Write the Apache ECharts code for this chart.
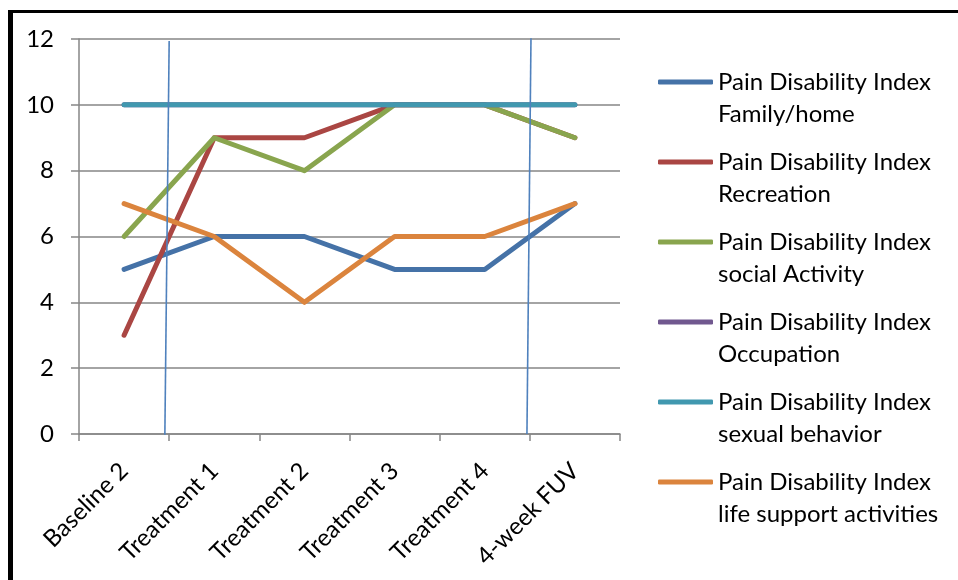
<!DOCTYPE html>
<html>
<head>
<meta charset="utf-8">
<script src="https://cdn.jsdelivr.net/npm/echarts@6/dist/echarts.min.js"></script>
<style>
  html, body { margin: 0; padding: 0; background: #fff; }
  #frame { position: absolute; left: 8px; top: 10px; width: 960px; height: 580px;
           border-left: 5px solid #000; border-top: 3px solid #000; box-sizing: border-box; }
  #chart { position: absolute; left: 0; top: 0; width: 958px; height: 580px; }
</style>
</head>
<body>
<div id="chart"></div>
<div id="frame"></div>
<script>
// Session labels along the x axis
const categories = ['Baseline 2', 'Treatment 1', 'Treatment 2', 'Treatment 3', 'Treatment 4', '4-week FUV'];

// Pain Disability Index sub-scores per session
const familyHome      = [5, 6, 6, 5, 5, 7];
const recreation      = [3, 9, 9, 10, 10, 9];
const socialActivity  = [6, 9, 8, 10, 10, 9];
const occupation      = [10, 10, 10, 10, 10, 10];
const sexualBehavior  = [10, 10, 10, 10, 10, 10];
const lifeSupport     = [7, 6, 4, 6, 6, 7];

const seriesNames = [
  'Pain Disability Index\nFamily/home',
  'Pain Disability Index\nRecreation',
  'Pain Disability Index\nsocial Activity',
  'Pain Disability Index\nOccupation',
  'Pain Disability Index\nsexual behavior',
  'Pain Disability Index\nlife support activities'
];
const seriesValues = [familyHome, recreation, socialActivity, occupation, sexualBehavior, lifeSupport];
const seriesColors = ['#4572A7', '#AA4643', '#89A54E', '#71588F', '#4198AF', '#DB843D'];

// y-axis ticks
const yTicks = [0, 2, 4, 6, 8, 10, 12];

// Phase-change markers, in category-index units (x) and score units (y)
const phaseLine1 = [[0.50, 11.94], [0.452, -0.09]];
const phaseLine2 = [[4.513, 12.1], [4.468, 0.0]];

const chart = echarts.init(document.getElementById('chart'));
const font = 'Lato';
const fontSize = 24;

const lineSeries = seriesNames.map((name, i) => ({
  name: name,
  type: 'line',
  data: seriesValues[i],
  showSymbol: false,
  symbol: 'none',
  color: seriesColors[i],
  lineStyle: { width: 5, color: seriesColors[i], cap: 'round', join: 'round' },
  silent: true,
  animation: false
}));

const phaseSeries = [phaseLine1, phaseLine2].map((pts, i) => ({
  name: 'phase' + i,
  type: 'line',
  xAxisIndex: 1,
  data: pts,
  showSymbol: false,
  symbol: 'none',
  z: 5,
  lineStyle: { width: 1.6, color: '#4F81BD' },
  silent: true,
  animation: false
}));

chart.setOption({
  animation: false,
  backgroundColor: '#fff',
  grid: { left: 79, right: 338, top: 39, bottom: 146, containLabel: false },
  legend: {
    data: seriesNames.map(n => ({ name: n })),
    // blank first line keeps the key line level with the first text line
    formatter: name => '\u00a0\n' + name,
    orient: 'vertical',
    left: 653,
    top: 29,
    itemWidth: 55,
    itemHeight: 5,
    itemGap: -16,
    icon: 'roundRect',
    selectedMode: false,
    textStyle: {
      fontFamily: font,
      fontSize: fontSize,
      color: '#000',
      lineHeight: 32
    }
  },
  xAxis: [{
    type: 'category',
    data: categories,
    boundaryGap: true,
    axisLine: { onZero: false, lineStyle: { color: '#868686', width: 1.5 } },
    axisTick: { show: true, length: 7, lineStyle: { color: '#868686', width: 1.5 } },
    axisLabel: {
      rotate: 45,
      interval: 0,
      margin: 33,
      fontFamily: font,
      fontSize: fontSize,
      color: '#000'
    },
    splitLine: { show: false }
  }, {
    type: 'value',
    min: -0.5,
    max: 5.5,
    show: false,
    splitLine: { show: false }
  }],
  yAxis: {
    type: 'value',
    min: yTicks[0],
    max: yTicks[yTicks.length - 1],
    interval: 2,
    axisLine: { show: true, onZero: false, lineStyle: { color: '#868686', width: 1.5 } },
    axisTick: { show: true, length: 8, lineStyle: { color: '#868686', width: 1.5 } },
    axisLabel: { margin: 25, fontFamily: font, fontSize: fontSize, color: '#000' },
    splitLine: { show: true, lineStyle: { color: '#868686', width: 1.5 } }
  },
  series: lineSeries.concat(phaseSeries)
});
</script>
</body>
</html>
